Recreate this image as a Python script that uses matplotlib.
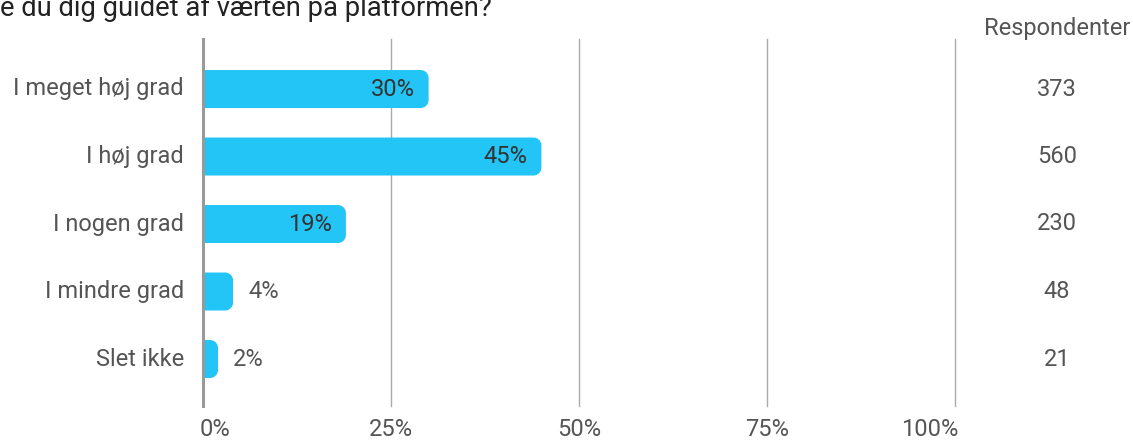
import matplotlib.pyplot as plt
from matplotlib.patches import PathPatch
from matplotlib.path import Path
import numpy as np

categories = ["I meget høj grad", "I høj grad", "I nogen grad", "I mindre grad", "Slet ikke"]
percent = [30, 45, 19, 4, 2]
respondents = [373, 560, 230, 48, 21]
xticks = [0, 25, 50, 75, 100]

plt.rcParams['font.family'] = ['Roboto', 'DejaVu Sans']

W, H = 1133, 441
FS = 17
fig = plt.figure(figsize=(W / 100, H / 100), dpi=100)
ax = fig.add_axes([203 / W, 35 / H, 752 / W, 367 / H])

ax.set_xlim(0, 100)
ax.set_ylim(4.696, -0.741)
for s in ax.spines.values():
    s.set_visible(False)
ax.set_yticks([])
ax.set_xticks([])

# grid lines
for t in xticks[1:]:
    ax.axvline(t, color='#aaaaaa', lw=1.0, zorder=1, clip_on=False)
ax.axvline(0, color='#999999', lw=2.2, zorder=4, clip_on=False)

bar_color = '#22c5f5'
bar_h = 38 / 67.5
rx = 8 / 7.52   # corner radius in data units (x)
ry = 8 / 67.5   # corner radius in data units (y)


def rounded_bar(y, w):
    top, bot = y - bar_h / 2, y + bar_h / 2
    r_x = min(rx, w)
    th1 = np.linspace(np.pi / 2, 0, 10)
    th2 = np.linspace(0, -np.pi / 2, 10)
    pts = [(0, top), (w - r_x, top)]
    pts += [(w - r_x + r_x * np.cos(t), top + ry - ry * np.sin(t)) for t in th1]
    pts += [(w - r_x + r_x * np.cos(t), bot - ry - ry * np.sin(t)) for t in th2]
    pts += [(0, bot), (0, top)]
    codes = [Path.MOVETO] + [Path.LINETO] * (len(pts) - 2) + [Path.CLOSEPOLY]
    return PathPatch(Path(pts, codes), facecolor=bar_color, edgecolor='none', zorder=3)


for i, (cat, p, n) in enumerate(zip(categories, percent, respondents)):
    ax.add_patch(rounded_bar(i, p))
    if p >= 10:
        ax.text(p - 1.8, i, f"{p}%", ha='right', va='center', fontsize=FS,
                color='#333333', zorder=5)
    else:
        ax.text(p + 2.0, i, f"{p}%", ha='left', va='center', fontsize=FS,
                color='#555555', zorder=5)
    fig.text(184 / W, 1 - (89 + i * 67.5) / H, cat, ha='right', va='center',
             fontsize=FS, color='#555555')
    fig.text(1057 / W, 1 - (89 + i * 67.5) / H, str(n), ha='center', va='center',
             fontsize=FS, color='#555555')

for t in xticks:
    ha = 'left' if t == 0 else ('right' if t == 100 else 'center')
    x = 203 + t * 7.52 + (-3 if t == 0 else (3 if t == 100 else 0))
    fig.text(x / W, 1 - 430 / H, f"{t}%", ha=ha, va='center',
             fontsize=FS, color='#555555')

fig.text(1057 / W, 1 - 28 / H, "Respondenter", ha='center', va='center',
         fontsize=FS, color='#555555')

fig.text(0, 1 - 16 / H, "e du dig guidet af værten på platformen?", ha='left',
         va='baseline', fontsize=19.7, color='#222222')

fig.savefig('out.png', dpi=100)
